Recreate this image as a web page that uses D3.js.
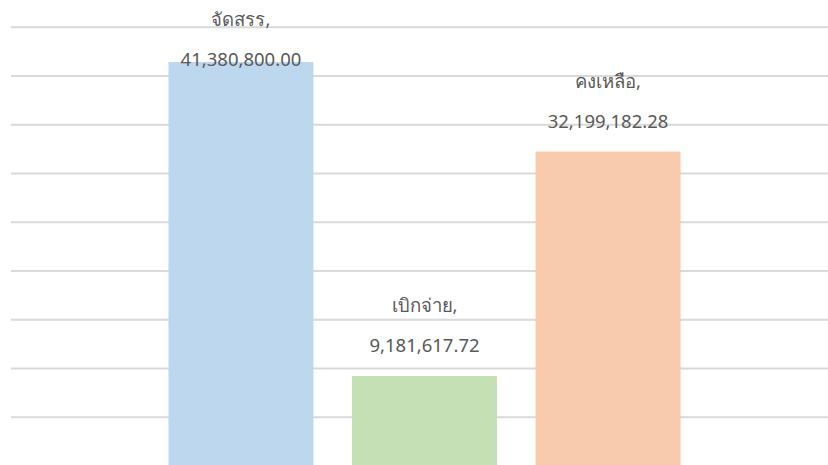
<!DOCTYPE html>
<html><head><meta charset="utf-8">
<script src="https://cdn.jsdelivr.net/npm/d3@7"></script>
<style>html,body{margin:0;padding:0;background:#fff;overflow:hidden}</style>
</head><body>
<svg id="c" width="828" height="465"></svg>
<script>
const categories = ["จัดสรร", "เบิกจ่าย", "คงเหลือ"];
const values = [41380800.00, 9181617.72, 32199182.28];
const colors = ["#bdd7ee", "#c5e0b4", "#f8cbad"];
const gridTicks = [0, 5e6, 10e6, 15e6, 20e6, 25e6, 30e6, 35e6, 40e6, 45e6];

const svg = d3.select("#c");
const x = d3.scaleBand().domain(categories).range([11, 838]).paddingInner(0.21).paddingOuter(0.858);
const y = d3.scaleLinear().domain([0, 45e6]).range([465.5, 26.75]);

const axis = d3.axisLeft(y).tickValues(gridTicks).tickSize(-(838 - 11)).tickFormat("");
const g = svg.append("g").attr("transform", "translate(11,0)").call(axis);
g.select(".domain").remove();
g.selectAll(".tick line").attr("stroke", "#d9d9d9").attr("stroke-width", 2);

svg.selectAll("rect.bar").data(values).join("rect").attr("class", "bar")
  .attr("x", (d, i) => x(categories[i])).attr("width", x.bandwidth())
  .attr("y", d => y(d)).attr("height", d => y(0) - y(d))
  .attr("fill", (d, i) => colors[i]);

const fmt = d3.format(",.2f");
const lab = svg.selectAll("g.lab").data(values).join("g").attr("class", "lab")
  .attr("font-family", "Tahoma, 'Noto Sans', 'DejaVu Sans', sans-serif")
  .attr("font-size", 18.5).attr("fill", "#595959").attr("text-anchor", "middle");
lab.each(function(d, i) {
  const cx = x(categories[i]) + x.bandwidth() / 2;
  const b2 = Math.max(y(d) - 24, 66);
  const sel = d3.select(this);
  sel.append("text").attr("x", cx).attr("y", b2 - 40).text(categories[i] + ",");
  sel.append("text").attr("x", cx).attr("y", b2).text(fmt(d));
});
</script>
</body></html>
